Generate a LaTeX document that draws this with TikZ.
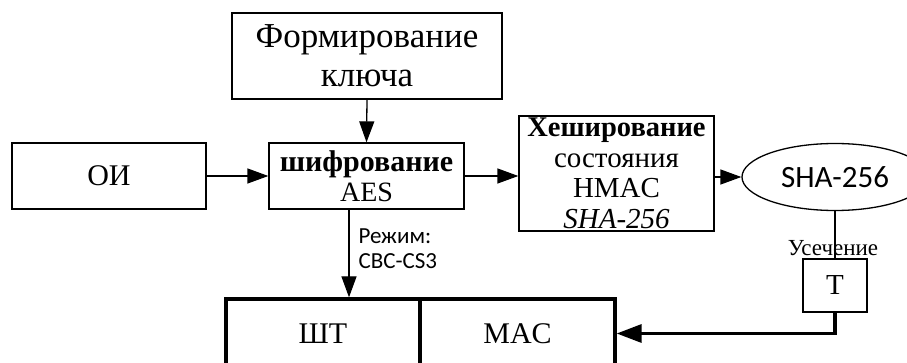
\documentclass[tikz,border=0pt]{standalone}
\usepackage{fontspec}
\setmainfont{Liberation Serif}
\newfontfamily\calibri{Carlito}
\usetikzlibrary{arrows.meta,shapes.geometric}
\newcommand{\fsz}[2]{\fontsize{#1}{#2}\selectfont}
\tikzset{blk/.style={draw, rectangle, line width=1.3pt, inner sep=0pt, align=center}}
\tikzset{outblk/.style={draw, rectangle, line width=3.3pt, inner sep=0pt, align=center}}
\tikzset{arr/.style={line width=1.3pt, -{Triangle[length=21pt,width=15pt]}}}
\tikzset{thickarr/.style={line width=3.3pt, -{Triangle[length=25pt,width=18pt]}}}

\begin{document}
\begin{tikzpicture}[x=1pt,y=-1pt]
  \useasboundingbox (0,0) rectangle (907,363);

  \node[blk, minimum width=270pt, minimum height=86pt, font=\fsz{35}{39}] (key) at (367,56) {Формирование\\ключа};
  \node[blk, minimum width=194pt, minimum height=66pt, font=\fsz{30}{32}] (oi) at (109,176) {ОИ};
  \node[blk, minimum width=195pt, minimum height=66pt, font=\fsz{28}{30}] (aes) at (366.5,176) {{\fontsize{30}{30}\selectfont\bfseries шифрование}\\AES};
  \node[blk, minimum width=195pt, minimum height=115pt, font=\fsz{29}{30.5}] (hash) at (616.5,173.5) {{\bfseries\fontsize{28.5}{30.5}\selectfont Хеширование}\\состояния\\HMAC\\\textit{SHA-256}};
  \node[draw, ellipse, line width=1.3pt, minimum width=186pt, minimum height=67pt, inner sep=0pt, font=\calibri\fsz{31}{32}] (sha) at (835,177) {SHA-256};
  \node[blk, minimum width=64pt, minimum height=53pt, font=\fsz{29}{30}] (trunc) at (835,285.5) {Т};
  \node[outblk, minimum width=194pt, minimum height=69pt, font=\fsz{30}{32}] (ct) at (323,333.5) {ШТ};
  \node[outblk, minimum width=195pt, minimum height=69pt, font=\fsz{30}{32}] (mac) at (517.5,333.5) {MAC};

  % arrows
  \draw[arr] (key.south) -- (aes.north);
  \draw[arr] (oi.east) -- (aes.west);
  \draw[arr] (aes.east) -- (hash.west |- aes.east);
  \draw[arr] (hash.east |- sha.west) -- (sha.west);
  \draw[arr] ([xshift=-17.5pt]aes.south) -- ([xshift=-17.5pt]aes.south |- ct.north);
  \draw[line width=1.3pt] (sha.south) -- (trunc.north);
  \draw[thickarr] (trunc.south) |- (mac.east);

  \node[anchor=west, align=left, font=\calibri\fsz{23}{25}] (mode) at (355,249) {Режим:\\CBC-CS3};
  \node[font=\fsz{23}{25}] (cut) at (833,248) {Усечение};
\end{tikzpicture}
\end{document}
